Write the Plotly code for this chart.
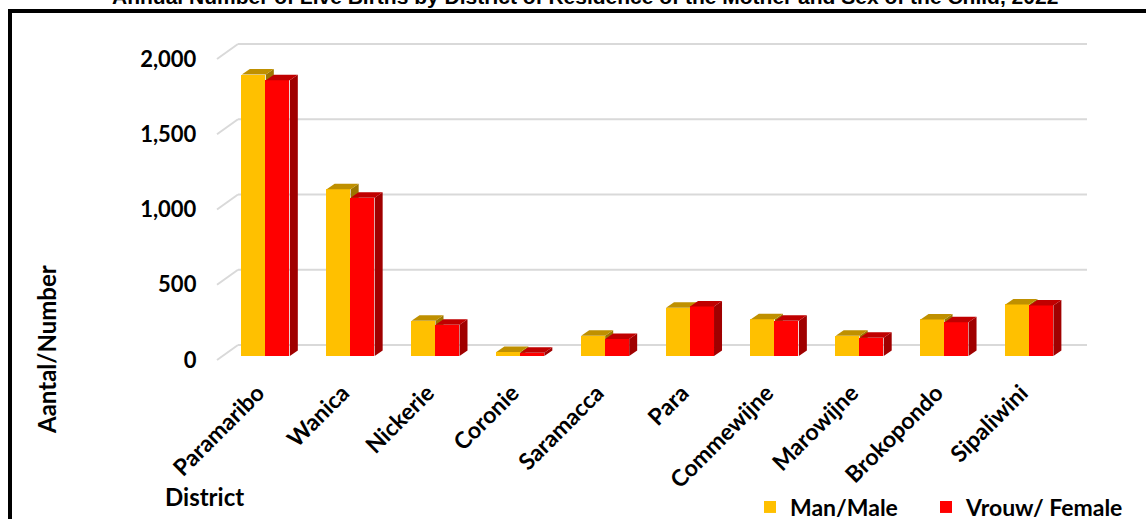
import numpy as np
import plotly.graph_objects as go

# ---------------- data ----------------
districts = ["Paramaribo", "Wanica", "Nickerie", "Coronie", "Saramacca",
             "Para", "Commewijne", "Marowijne", "Brokopondo", "Sipaliwini"]
male = [1870, 1108, 234, 26, 135, 320, 245, 134, 243, 343]
female = [1832, 1052, 208, 21, 113, 329, 235, 122, 224, 336]
y_ticks = [0, 500, 1000, 1500, 2000]
series_names = ["Man/Male", "Vrouw/ Female"]
title_text = ("Annual Number of Live Births by District of Residence of the Mother "
              "and Sex of the Child, 2022")

# ---------------- geometry (pixels) ----------------
W, H = 1146, 519
X_LEFT, X_RIGHT = 223.4, 1071.8      # front plane x extent of category axis
Y_TOP, Y_BOT = 30.0, 380.0           # plot area vertical extent
BASE_PX = 356.0                      # pixel of value 0 for bars
PPU = 0.1505                         # pixels per unit (value)
FRONT_PX0 = 360.0                    # pixel of value 0 on the front (tick labels)
BACK_PX0 = 345.0                     # pixel of value 0 on the back wall (gridlines)
BACK_X0, BACK_X1 = 238.0, 1087.0     # back wall gridline extent
FRONT_X = 217.0                      # front end of diagonal tick lines

n = len(districts)
xpos = np.arange(n, dtype=float)
x_range = [-0.5, n - 0.5]
upx = (x_range[1] - x_range[0]) / (X_RIGHT - X_LEFT)   # x units per pixel
y_range = [(BASE_PX - Y_BOT) / PPU, (BASE_PX - Y_TOP) / PPU]

bw = 24.0 * upx         # bar width in x units
dxu = 8.0 * upx         # depth offset x
dyu = 5.5 / PPU         # depth offset y


def px(x):
    return x / W


def py(y):
    return 1 - y / H


male_c = dict(front="#FFC000", top="#BF9000", side="#9C7600")
female_c = dict(front="#FF0000", top="#C00000", side="#A00000")


def top_faces(xl, vals):
    xs, ys = [], []
    for a, v in zip(xl, vals):
        xs += [a, a + bw, a + bw + dxu, a + dxu, a, None]
        ys += [v, v, v + dyu, v + dyu, v, None]
    return xs, ys


def side_faces(xl, vals):
    xs, ys = [], []
    for a, v in zip(xl, vals):
        b = a + bw
        xs += [b, b, b + dxu, b + dxu, b, None]
        ys += [0, v, v + dyu, dyu, 0, None]
    return xs, ys


fig = go.Figure()

# male (main subplot)
m_left = xpos - bw
fig.add_trace(go.Bar(x=xpos, y=male, width=bw, offset=-bw, base=0, legend="legend",
                     name=series_names[0], marker=dict(color=male_c["front"], line=dict(width=0)),
                     xaxis="x", yaxis="y", hoverinfo="skip"))
sx, sy = side_faces(m_left, male)
fig.add_trace(go.Scatter(x=sx, y=sy, fill="toself", mode="lines", line=dict(width=0),
                         fillcolor=male_c["side"], showlegend=False, hoverinfo="skip",
                         xaxis="x", yaxis="y"))
tx, ty = top_faces(m_left, male)
fig.add_trace(go.Scatter(x=tx, y=ty, fill="toself", mode="lines", line=dict(width=0),
                         fillcolor=male_c["top"], showlegend=False, hoverinfo="skip",
                         xaxis="x", yaxis="y"))

# female (overlay subplot drawn on top)
f_left = xpos
fig.add_trace(go.Bar(x=xpos, y=female, width=bw, offset=0, base=0, legend="legend2",
                     name=series_names[1], marker=dict(color=female_c["front"], line=dict(width=0)),
                     xaxis="x2", yaxis="y2", hoverinfo="skip"))
sx, sy = side_faces(f_left, female)
fig.add_trace(go.Scatter(x=sx, y=sy, fill="toself", mode="lines", line=dict(width=0),
                         fillcolor=female_c["side"], showlegend=False, hoverinfo="skip",
                         xaxis="x2", yaxis="y2"))
tx, ty = top_faces(f_left, female)
fig.add_trace(go.Scatter(x=tx, y=ty, fill="toself", mode="lines", line=dict(width=0),
                         fillcolor=female_c["top"], showlegend=False, hoverinfo="skip",
                         xaxis="x2", yaxis="y2"))

# ---------------- decorations: back wall gridlines + diagonal ticks ----------------
shapes = []
for v in y_ticks:
    yb = BACK_PX0 - PPU * v
    yf = FRONT_PX0 - PPU * v
    shapes.append(dict(type="line", xref="paper", yref="paper", layer="below",
                       x0=px(BACK_X0), x1=px(BACK_X1), y0=py(yb), y1=py(yb),
                       line=dict(color="#D9D9D9", width=2)))
    shapes.append(dict(type="line", xref="paper", yref="paper", layer="below",
                       x0=px(FRONT_X), x1=px(BACK_X0), y0=py(yf), y1=py(yb),
                       line=dict(color="#D9D9D9", width=2)))
# outer frame
shapes.append(dict(type="rect", xref="paper", yref="paper", layer="above",
                   x0=px(10), x1=px(1200), y0=py(560), y1=py(11),
                   line=dict(color="black", width=4), fillcolor="rgba(0,0,0,0)"))

xdom = [px(X_LEFT), px(X_RIGHT)]
ydom = [py(Y_BOT), py(Y_TOP)]
FONT = "Lato"
lab_off = (FRONT_PX0 - BASE_PX) / PPU
leg_font = dict(family=FONT, size=23, color="black", weight="bold")

fig.update_layout(
    template="none",
    width=W, height=H,
    margin=dict(l=0, r=0, t=0, b=0, pad=0, autoexpand=False),
    paper_bgcolor="white", plot_bgcolor="rgba(0,0,0,0)",
    barmode="overlay", bargap=0,
    showlegend=True,
    xaxis=dict(domain=xdom, range=x_range, tickmode="array", tickvals=list(xpos),
               ticktext=districts, tickangle=-45, showgrid=False, zeroline=False,
               showline=False, ticks="", automargin=False,
               ticklabelshift=-8, ticklabelstandoff=-6,
               tickfont=dict(family=FONT, size=23, color="black", weight="bold")),
    yaxis=dict(domain=ydom, range=y_range, showgrid=False, zeroline=False,
               showticklabels=False, showline=False, automargin=False),
    xaxis2=dict(overlaying="x", range=x_range, showgrid=False, zeroline=False,
                showticklabels=False, showline=False, anchor="y2", domain=xdom,
                automargin=False),
    yaxis2=dict(overlaying="y", range=y_range, showgrid=False, zeroline=False,
                showticklabels=False, showline=False, anchor="x2", domain=ydom,
                automargin=False),
    yaxis3=dict(overlaying="y", anchor="x", range=[y_range[0] + lab_off, y_range[1] + lab_off],
                tickmode="array", tickvals=y_ticks, tickformat=",", showgrid=False,
                zeroline=False, showline=False, ticks="", ticklabelstandoff=26,
                automargin=False,
                tickfont=dict(family=FONT, size=22, color="black", weight="bold")),
    legend=dict(orientation="h", x=px(750), y=py(507), xanchor="left", yanchor="middle",
                font=leg_font, bgcolor="rgba(0,0,0,0)", itemclick=False),
    legend2=dict(orientation="h", x=px(926), y=py(507), xanchor="left", yanchor="middle",
                 font=leg_font, bgcolor="rgba(0,0,0,0)", itemclick=False),
    shapes=shapes,
    annotations=[
        dict(text=title_text, xref="paper", yref="paper", x=px(585), y=py(-3),
             xanchor="center", yanchor="middle", showarrow=False,
             font=dict(family="Liberation Sans Narrow, Arial Narrow, Liberation Sans",
                       size=21, color="black", weight="bold")),
        dict(text="Aantal/Number", xref="paper", yref="paper", x=px(46), y=py(350),
             xanchor="center", yanchor="middle", textangle=-90, showarrow=False,
             font=dict(family=FONT, size=24, color="black", weight="bold")),
        dict(text="District", xref="paper", yref="paper", x=px(163), y=py(496),
             xanchor="left", yanchor="middle", showarrow=False,
             font=dict(family=FONT, size=24, color="black", weight="bold")),
    ],
)

# make sure the label axis is created
fig.add_trace(go.Scatter(x=[None], y=[None], xaxis="x", yaxis="y3", showlegend=False,
                         hoverinfo="skip"))

fig.write_html("out.html", config={"displayModeBar": False},
               post_script="document.body.style.margin='0';document.body.style.overflow='hidden';")
